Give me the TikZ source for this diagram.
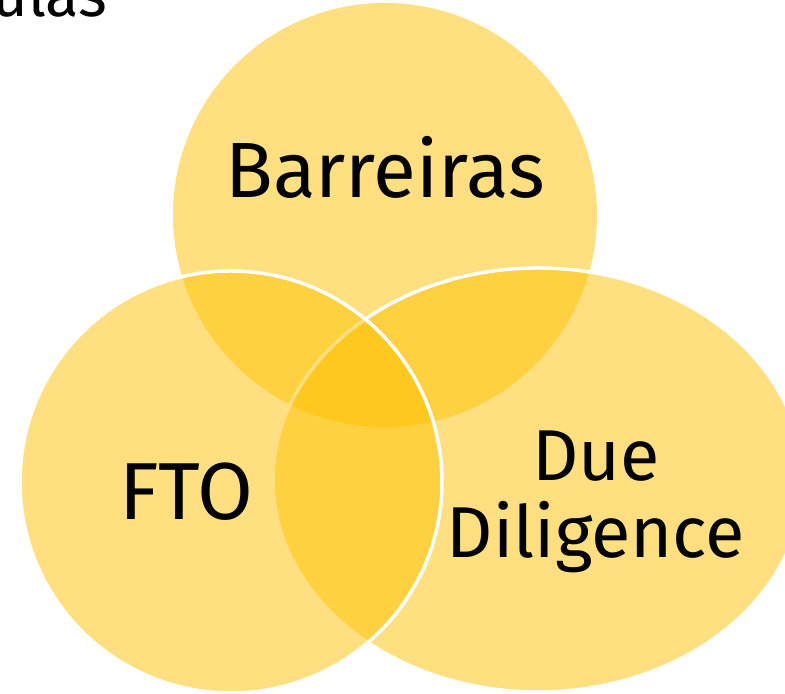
\documentclass[tikz,border=0pt]{standalone}
\usepackage{fontspec}
\setmainfont{Fira Sans}
\usepackage{xcolor}
\usetikzlibrary{positioning}
\definecolor{venngold}{HTML}{FFC000}

\begin{document}
\begin{tikzpicture}[
    vennset/.style={fill=venngold, fill opacity=0.5, draw=white, draw opacity=1, line width=0.035cm},
    settext/.style={font=\fontsize{23}{26}\selectfont, text=black, inner sep=0pt, align=center}
]
    \useasboundingbox (0,0) rectangle (7.85,6.94);
    % title, cut by the page edge
    \node[anchor=base east, inner sep=0pt, font=\fontsize{17.5}{20}\selectfont] (title) at (1.08,6.77) {ulas};
    % the three sets
    \fill[venngold, fill opacity=0.5] (3.85,4.79) circle (2.12);
    \filldraw[vennset] (5.38,2.14) ellipse [x radius=2.65, y radius=2.12];
    \filldraw[vennset] (2.31,2.12) circle (2.11);
    \node[settext, anchor=base, font=\fontsize{22.3}{26}\selectfont] (barreiras) at (3.85,4.96) {Barreiras};
    \node[settext, anchor=base] (fto) at (1.865,1.74) {FTO};
    \node[settext, anchor=north, font=\fontsize{20.5}{22}\selectfont] (due) at (5.96,2.64) {Due\\Diligence};
\end{tikzpicture}
\end{document}
